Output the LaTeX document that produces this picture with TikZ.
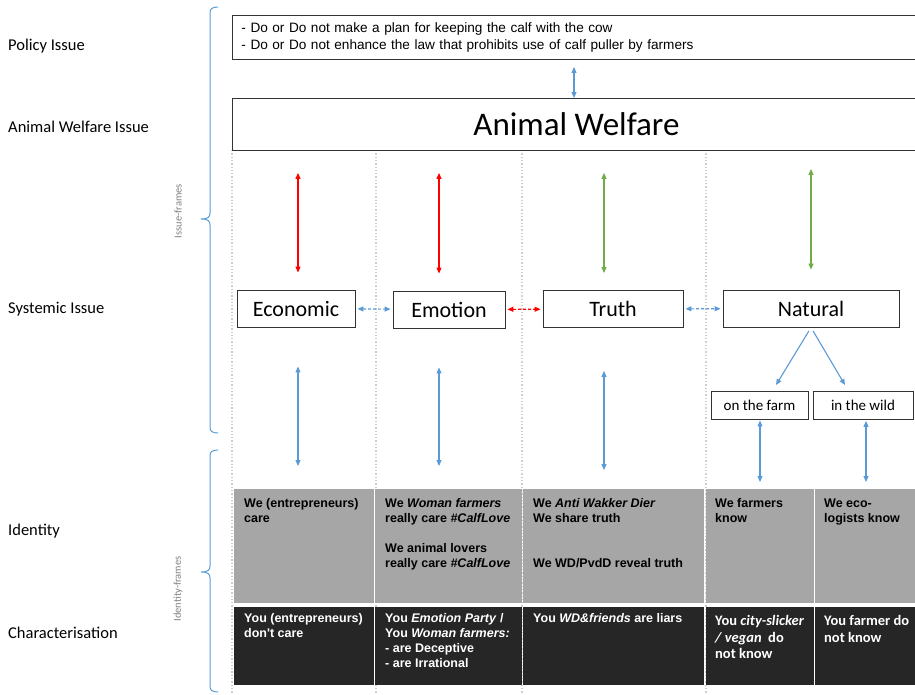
\documentclass[tikz,border=0pt]{standalone}
\usepackage{fontspec}
\setmainfont{Carlito}
\newfontfamily\arialfont{Liberation Sans}
\usepackage{xcolor}
\definecolor{frameblue}{RGB}{91,155,213}
\definecolor{framegreen}{RGB}{112,173,71}
\definecolor{framered}{RGB}{255,0,0}
\definecolor{cellgrey}{RGB}{166,166,166}
\definecolor{celldark}{RGB}{38,38,38}
\definecolor{linegrey}{RGB}{205,205,205}
\definecolor{labelgrey}{RGB}{128,128,128}
\usepackage{tikz}
\usetikzlibrary{arrows.meta}
\tikzset{
  policybox/.style={rectangle,draw=black!80,line width=0.9pt,anchor=north west,align=left,
                    inner xsep=9pt,text width=670pt,minimum height=44pt,
                    font=\arialfont\fontsize{13.6}{17}\selectfont},
  issuebox/.style ={rectangle,draw=black!80,line width=0.9pt,anchor=north west,
                    minimum width=688pt,minimum height=52pt,font=\fontsize{33}{38}\selectfont},
  sysbox/.style   ={rectangle,draw=black!80,line width=0.9pt,fill=white,
                    minimum height=37pt,font=\fontsize{22}{26}\selectfont},
  subbox/.style   ={rectangle,draw=black!80,line width=0.9pt,fill=white,
                    minimum height=28pt,font=\fontsize{15}{18}\selectfont},
  wecell/.style   ={rectangle,fill=cellgrey,anchor=north west,inner sep=0pt},
  youcell/.style  ={rectangle,fill=celldark,anchor=north west,inner sep=0pt},
  celltext/.style ={anchor=north west,inner sep=0pt,align=left,
                    font=\arialfont\bfseries\fontsize{12.5}{15}\selectfont},
  calftext/.style ={anchor=north west,inner sep=0pt,align=left,
                    font=\bfseries\fontsize{14.5}{16.5}\selectfont},
  rowlabel/.style ={anchor=west,inner sep=0pt,font=\fontsize{16.5}{20}\selectfont},
  framelabel/.style={rotate=90,text=labelgrey,font=\fontsize{10.5}{12}\selectfont},
  framebrace/.style={draw=frameblue,line width=1pt},
  colline/.style  ={draw=linegrey,dotted,line width=1.3pt},
  link/.style     ={{Triangle[length=6pt,width=5pt]}-{Triangle[length=6pt,width=5pt]},line width=1.1pt},
  bluelink/.style ={link,color=frameblue},
  redlink/.style  ={link,color=framered},
  greenlink/.style={link,color=framegreen},
  dashblue/.style ={bluelink,dash pattern=on 3pt off 2pt,shorten <=2pt,shorten >=2pt},
  dashred/.style  ={redlink,dash pattern=on 3pt off 2pt,shorten <=2pt,shorten >=2pt},
  branch/.style   ={-{Triangle[length=6pt,width=5pt]},line width=1.1pt,color=frameblue},
}

\begin{document}
\begin{tikzpicture}[x=1pt,y=-1pt]
  \useasboundingbox (0,0) rectangle (915,694);

  % ---- row labels and frame braces ------------------------------------
  \node[rowlabel] (lpol) at (8,46)  {Policy Issue};
  \node[rowlabel] (law)  at (8,127) {Animal Welfare Issue};
  \node[rowlabel] (lsys) at (8,309) {Systemic Issue};
  \node[rowlabel] (lid)  at (8,531) {Identity};
  \node[rowlabel] (lch)  at (8,633) {Characterisation};
  \draw[framebrace] (218,7) .. controls (212,7) and (210,9) .. (210,13) -- (210,213)
    .. controls (210,217) and (208,219) .. (201,219) .. controls (208,219) and (210,221) .. (210,225)
    -- (210,427) .. controls (210,431) and (212,433) .. (218,433);
  \draw[framebrace] (218,450) .. controls (212,450) and (210,452) .. (210,456) -- (210,566)
    .. controls (210,570) and (208,572) .. (201,572) .. controls (208,572) and (210,574) .. (210,578)
    -- (210,686) .. controls (210,690) and (212,692) .. (218,692);
  \node[framelabel] (fiss) at (178,211) {Issue-frames};
  \node[framelabel] (fid)  at (178,589) {Identity-frames};

  % ---- column guides ----------------------------------------------------
  \foreach \cx in {232,376,522,706}
    \draw[colline] (\cx,150) -- (\cx,694);

  % ---- policy and animal welfare ------------------------------------------
  \node[policybox] (pol) at (232,15)
    {- Do or Do not make a plan for keeping the calf with the cow\\
     - Do or Do not enhance the law that prohibits use of calf puller by farmers};
  \node[issuebox] (aw) at (232,98) {Animal Welfare};
  \coordinate (pax) at (574,0);
  \draw[bluelink,shorten <=7pt] (pax |- pol.south) -- (pax |- aw.north);

  % ---- systemic frames ----------------------------------------------------
  \node[sysbox,minimum width=118pt] (eco)   at (296,308.5) {Economic};
  \node[sysbox,minimum width=112pt] (emo)   at (449,309.5) {Emotion};
  \node[sysbox,minimum width=140pt] (truth) at (613,309)   {Truth};
  \node[sysbox,minimum width=176pt] (nat)   at (811,308.5) {Natural};
  \node[subbox,minimum width=97pt]  (farm)  at (759.5,405) {on the farm};
  \node[subbox,minimum width=100pt] (wild)  at (863,405.5) {in the wild};

  \draw[dashblue] (eco) -- (emo);
  \draw[dashred]  (emo) -- (truth);
  \draw[dashblue] (truth) -- (nat);

  \coordinate (farmin) at (776,385);
  \coordinate (wildin) at (845,385);
  \draw[branch,shorten <=4pt] (nat.south) -- (farmin);
  \draw[branch,shorten <=4pt] (nat.south) -- (wildin);

  \coordinate (ax1) at (298,0);
  \coordinate (ax2) at (439,0);
  \coordinate (ax3) at (604,0);
  \coordinate (ax4) at (811,0);
  \coordinate (ax5) at (760,0);
  \coordinate (ax6) at (866,0);
  \draw[redlink,shorten <=22pt,shorten >=17pt]   (ax1 |- aw.south) -- (ax1 |- eco.north);
  \draw[redlink,shorten <=22pt,shorten >=17pt]   (ax2 |- aw.south) -- (ax2 |- emo.north);
  \draw[greenlink,shorten <=22pt,shorten >=17pt] (ax3 |- aw.south) -- (ax3 |- truth.north);
  \draw[greenlink,shorten <=18pt,shorten >=20pt] (ax4 |- aw.south) -- (ax4 |- nat.north);

  % ---- identity and characterisation cells ------------------------------
  \foreach \i/\l/\r in {1/234/374,2/375/522,3/523/704,4/706/814,5/815/920} {
    \node[wecell,minimum width={(\r-\l)*1pt},minimum height=114pt] (we\i) at (\l,489) {};
    \node[youcell,minimum width={(\r-\l)*1pt},minimum height=78pt] (you\i) at (\l,607) {};
  }

  \draw[bluelink,shorten <=39pt,shorten >=23pt] (ax1 |- eco.south) -- (ax1 |- we1.north);
  \draw[bluelink,shorten <=39pt,shorten >=23pt] (ax2 |- emo.south) -- (ax2 |- we2.north);
  \draw[bluelink,shorten <=43pt,shorten >=19pt] (ax3 |- truth.south) -- (ax3 |- we3.north);
  \draw[bluelink,shorten <=1pt,shorten >=7pt]   (ax5 |- farm.south) -- (ax5 |- we4.north);
  \draw[bluelink,shorten <=1pt,shorten >=7pt]   (ax6 |- wild.south) -- (ax6 |- we5.north);

  \node[celltext] (t1) at ([xshift=10pt,yshift=-9.5pt]we1.north west)
    {We (entrepreneurs)\\care};
  \node[celltext] (t2) at ([xshift=10pt,yshift=-9.5pt]we2.north west)
    {We \textit{Woman farmers}\\really care \textit{\#CalfLove}\\[15pt]
     We animal lovers\\really care \textit{\#CalfLove}};
  \node[celltext] (t3) at ([xshift=10pt,yshift=-9.5pt]we3.north west)
    {We \textit{Anti Wakker Dier}\\We share truth\\[30pt]We WD/PvdD reveal truth};
  \node[celltext] (t4) at ([xshift=9pt,yshift=-9.5pt]we4.north west)
    {We farmers\\know};
  \node[celltext] (t5) at ([xshift=9pt,yshift=-9.5pt]we5.north west)
    {We eco-\\logists know};

  \node[celltext,text=white] (c1) at ([xshift=10pt,yshift=-6.5pt]you1.north west)
    {You (entrepreneurs)\\don't care};
  \node[celltext,text=white] (c2) at ([xshift=10pt,yshift=-6.5pt]you2.north west)
    {You \textit{Emotion Party} /\\You \textit{Woman farmers:}\\- are Deceptive\\- are Irrational};
  \node[celltext,text=white] (c3) at ([xshift=10pt,yshift=-6.5pt]you3.north west)
    {You \textit{WD\&friends} are liars};
  \node[calftext,text=white] (c4) at ([xshift=9pt,yshift=-8.5pt]you4.north west)
    {You \textit{city-slicker}\\\textit{/ vegan}\ \ do\\not know};
  \node[calftext,text=white] (c5) at ([xshift=9pt,yshift=-8.5pt]you5.north west)
    {You farmer do\\not know};
\end{tikzpicture}
\end{document}
